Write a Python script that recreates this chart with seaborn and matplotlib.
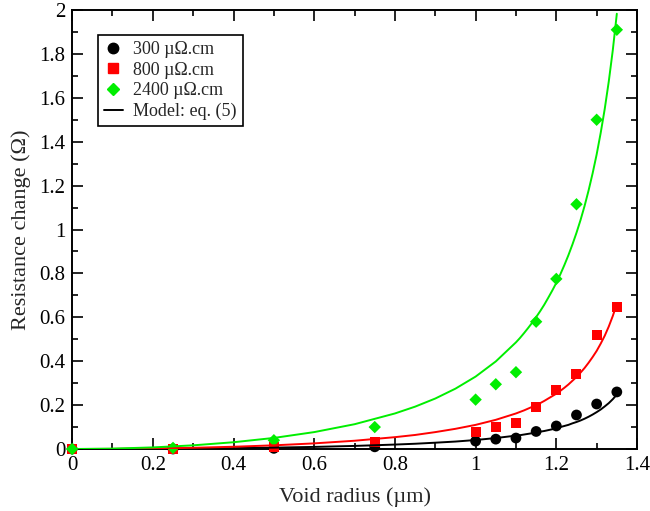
import numpy as np
import pandas as pd
import seaborn as sns
import matplotlib.pyplot as plt
from matplotlib.ticker import MultipleLocator
from matplotlib.lines import Line2D

# measured points
radius = [0, 0.25, 0.5, 0.75, 1.0, 1.05, 1.1, 1.15, 1.2, 1.25, 1.3, 1.35]
r300 = [0, 0.0, 0.003, 0.01, 0.036, 0.045, 0.05, 0.08, 0.105, 0.155, 0.205, 0.26]
r800 = [0, 0.0, 0.01, 0.03, 0.078, 0.10, 0.12, 0.19, 0.27, 0.34, 0.52, 0.645]
r2400 = [0, 0.005, 0.04, 0.10, 0.225, 0.295, 0.35, 0.58, 0.775, 1.115, 1.50, 1.91]

# model curves
model_x = [0, 0.1, 0.2, 0.3, 0.4, 0.5, 0.6, 0.7, 0.8, 0.85, 0.9, 0.95, 1.0, 1.05,
           1.1, 1.11, 1.12, 1.13, 1.14, 1.15, 1.16, 1.17, 1.18, 1.19, 1.2,
           1.21, 1.22, 1.23, 1.24, 1.25, 1.26, 1.27, 1.28, 1.29, 1.3,
           1.31, 1.32, 1.33, 1.34, 1.35]
model_300 = [0, 0.0002, 0.0009, 0.0021, 0.0039, 0.0063, 0.0096, 0.0141, 0.0203,
             0.024, 0.0288, 0.034, 0.041, 0.050,
             0.061, 0.063, 0.066, 0.069, 0.072, 0.075, 0.079, 0.082, 0.086, 0.090, 0.095,
             0.100, 0.105, 0.110, 0.117, 0.123, 0.130, 0.138, 0.147, 0.157, 0.168,
             0.180, 0.194, 0.209, 0.227, 0.248]
model_800 = [0, 0.0006, 0.0024, 0.0056, 0.0103, 0.0168, 0.0257, 0.0377, 0.054,
             0.064, 0.077, 0.092, 0.11, 0.133,
             0.162, 0.169, 0.176, 0.184, 0.192, 0.200, 0.209, 0.219, 0.230, 0.241, 0.252,
             0.265, 0.279, 0.294, 0.311, 0.328, 0.348, 0.369, 0.393, 0.419, 0.447,
             0.480, 0.516, 0.558, 0.606, 0.661]
model_2400 = [0, 0.0018, 0.0073, 0.0168, 0.0309, 0.0505, 0.0771, 0.113, 0.162,
              0.193, 0.230, 0.275, 0.33, 0.399,
              0.486, 0.506, 0.528, 0.551, 0.575, 0.601, 0.628, 0.657, 0.689, 0.722, 0.757,
              0.796, 0.838, 0.883, 0.932, 0.985, 1.043, 1.107, 1.178, 1.256, 1.342,
              1.440, 1.549, 1.674, 1.817, 1.983]

sns.set_style('ticks')
plt.rcParams['font.family'] = ['Liberation Serif', 'DejaVu Serif']

fig = plt.figure(figsize=(6.5, 5.11), dpi=100)
ax = fig.add_axes([0.111, 0.1213, 0.869, 0.8591])

green = '#00ee00'
red = '#ff0000'

pts = pd.DataFrame({'x': radius, 'a': r300, 'b': r800, 'c': r2400})
sns.scatterplot(data=pts, x='x', y='a', ax=ax, color='black', marker='o',
                s=60, edgecolor='none', zorder=3, clip_on=False)
sns.scatterplot(data=pts, x='x', y='b', ax=ax, color=red, marker='s',
                s=52, edgecolor='none', zorder=3, clip_on=False)
sns.scatterplot(data=pts, x='x', y='c', ax=ax, color=green, marker='D',
                s=40, edgecolor='none', zorder=3, clip_on=False)

mdl = pd.DataFrame({'x': model_x, 'a': model_300, 'b': model_800, 'c': model_2400})
sns.lineplot(data=mdl, x='x', y='a', ax=ax, color='black', lw=1.4, zorder=4)
sns.lineplot(data=mdl, x='x', y='b', ax=ax, color=red, lw=1.4, zorder=4)
sns.lineplot(data=mdl, x='x', y='c', ax=ax, color=green, lw=1.4, zorder=4)

ax.set_xlim(0, 1.4)
ax.set_ylim(0, 2)
ax.set_xticks(np.arange(0, 1.41, 0.2))
ax.set_xticklabels(['0', '0.2', '0.4', '0.6', '0.8', '1', '1.2', '1.4'])
ax.set_yticks(np.arange(0, 2.01, 0.2))
ax.set_yticklabels(['0', '0.2', '0.4', '0.6', '0.8', '1', '1.2', '1.4',
                    '1.6', '1.8', '2'])
ax.xaxis.set_minor_locator(MultipleLocator(0.1))
ax.yaxis.set_minor_locator(MultipleLocator(0.1))
ax.tick_params(which='both', direction='in', top=True, right=True,
               labelsize=15, width=1.2, colors='black')
ax.tick_params(which='major', length=8, pad=5)
ax.tick_params(which='minor', length=4)
for sp in ax.spines.values():
    sp.set_linewidth(1.4)
    sp.set_color('black')

ax.set_xlabel('Void radius (µm)', fontsize=16, labelpad=9)
ax.set_ylabel('Resistance change (Ω)', fontsize=16, labelpad=6)

handles = [
    Line2D([], [], ls='none', marker='o', color='black', markersize=7.5),
    Line2D([], [], ls='none', marker='s', color=red, markersize=7),
    Line2D([], [], ls='none', marker='D', color=green, markersize=6),
    Line2D([], [], color='black', lw=1.4),
]
labels = ['300 µΩ.cm', '800 µΩ.cm', '2400 µΩ.cm', 'Model: eq. (5)']
leg = ax.legend(handles, labels, loc='upper left', bbox_to_anchor=(0.046, 0.944),
                fontsize=13, frameon=True, fancybox=False, edgecolor='black',
                framealpha=1, handlelength=1.0, handletextpad=0.6,
                borderpad=0.35, labelspacing=0.2, borderaxespad=0)
leg.get_frame().set_linewidth(1.2)

fig.savefig('out.png', dpi=100)
